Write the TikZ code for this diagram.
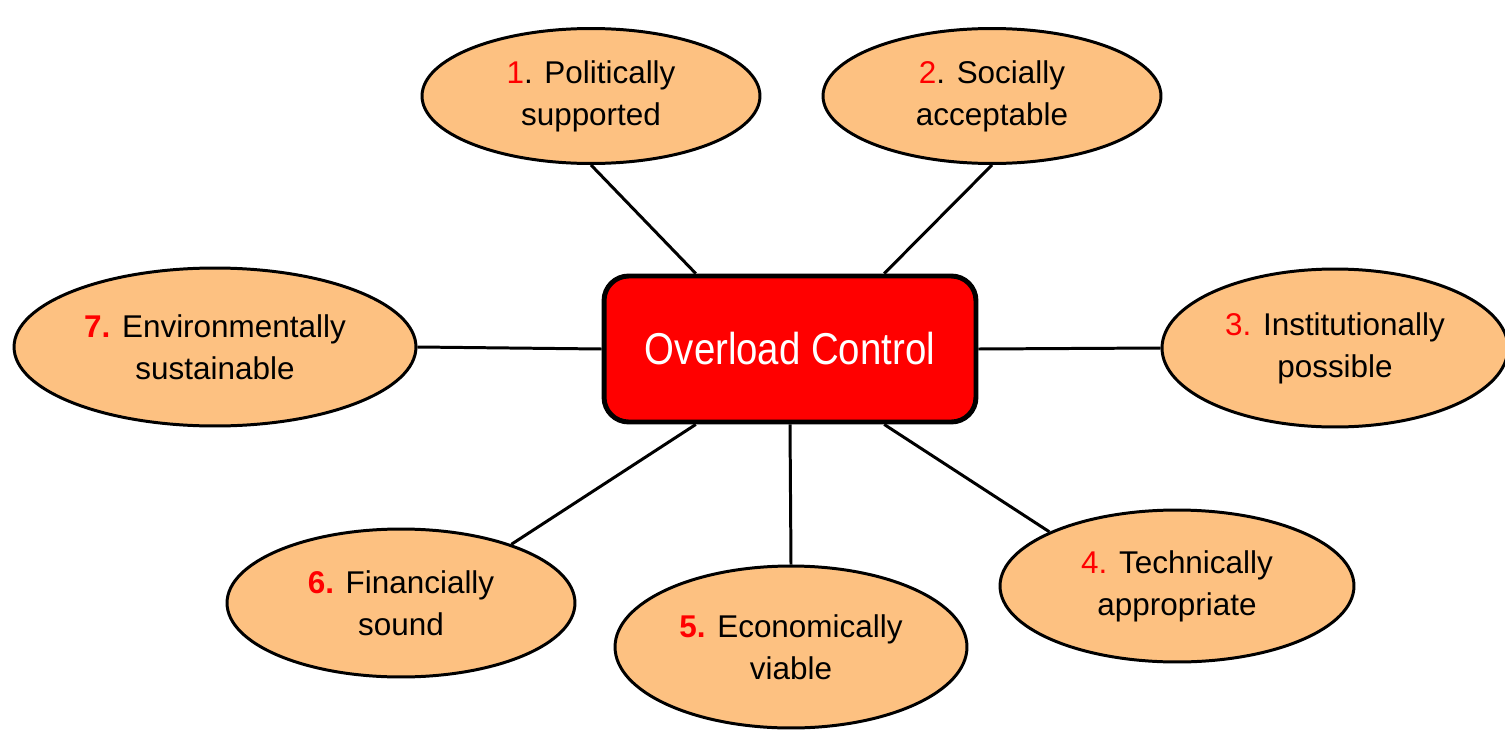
\documentclass[tikz,border=0pt]{standalone}
\usepackage{fontspec}
\setmainfont{Liberation Sans}
\newfontfamily\narrowfont[FakeStretch=0.86]{Liberation Sans}
\usetikzlibrary{shapes.geometric,calc}
\definecolor{goalfill}{RGB}{253,193,129}
\newcommand{\numlab}[1]{\textcolor{red}{#1}}
\newcommand{\boldnum}[1]{\textcolor{red}{\bfseries #1}}
\begin{document}
\begin{tikzpicture}[x=0.02cm, y=-0.02cm,
  every path/.style={draw=black, line width=1.7pt},
  goal/.style={ellipse, draw=black, fill=goalfill, line width=1.7pt, inner sep=0pt,
    align=center, font={\fontsize{17.9}{23.9}\selectfont}},
  hub/.style={rectangle, rounded corners=14pt, draw=black, fill=red, line width=2.8pt,
    minimum width=7.44cm, minimum height=2.92cm, text=white,
    font={\narrowfont\fontsize{25.4}{30}\selectfont}}]
\useasboundingbox[draw=none] (0,0) rectangle (1505,730);
\node[hub] (oc) at (790,349) {Overload Control};
\node[goal, minimum width=6.76cm, minimum height=2.7cm] (p1) at (591,96) {\numlab{1}. Politically\\supported};
\node[goal, minimum width=6.76cm, minimum height=2.7cm] (p2) at (992,96) {\numlab{2}. Socially\\acceptable};
\node[goal, minimum width=6.92cm, minimum height=3.16cm] (p3) at (1335,348) {\numlab{3.} Institutionally\\possible};
\node[goal, minimum width=7.08cm, minimum height=3.04cm] (p4) at (1177,586) {\numlab{4.} Technically\\appropriate};
\node[goal, minimum width=7.04cm, minimum height=3.24cm] (p5) at (791,647) {\boldnum{5.} Economically\\viable};
\node[goal, minimum width=6.96cm, minimum height=2.96cm] (p6) at (401,603) {\boldnum{6.} Financially\\sound};
\node[goal, minimum width=8.04cm, minimum height=3.16cm] (p7) at (215,347) {\boldnum{7.} Environmentally\\sustainable};
% where the spokes meet the box
\coordinate (tl) at ($(oc.north west)!.25!(oc.north east)$);
\coordinate (tr) at ($(oc.north west)!.75!(oc.north east)$);
\coordinate (bl) at ($(oc.south west)!.25!(oc.south east)$);
\coordinate (br) at ($(oc.south west)!.75!(oc.south east)$);
\path (p1.south) -- (tl);
\path (p2.south) -- (tr);
\path (p3.west) -- (oc.east);
\path (p4.157) -- (br);
\path (p5.north) -- (oc.south);
\path (p6.28) -- (bl);
\path (p7.east) -- (oc.west);
\end{tikzpicture}
\end{document}
